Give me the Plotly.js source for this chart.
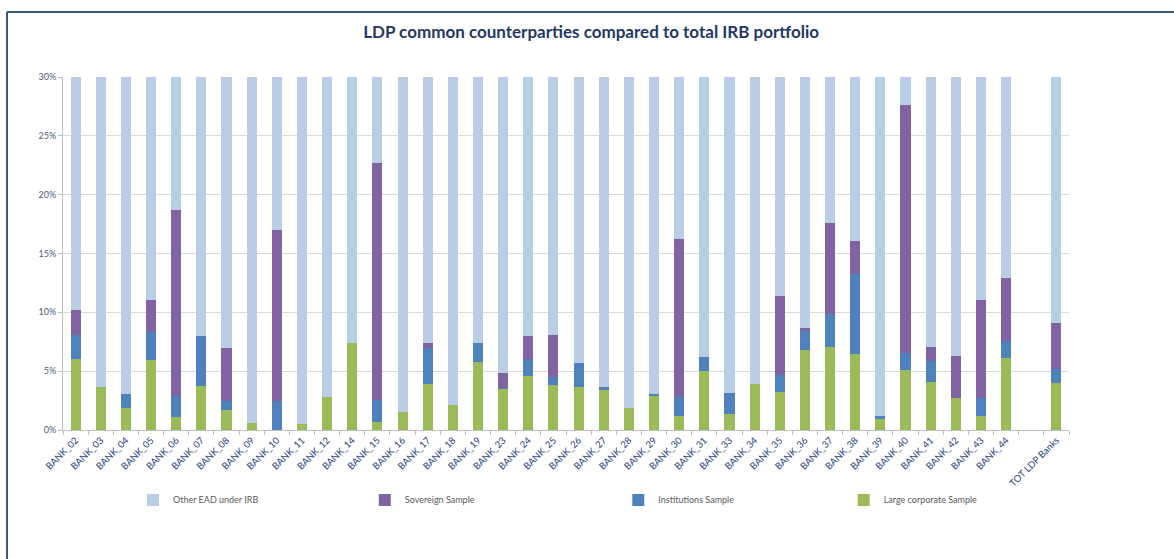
<!DOCTYPE html>
<html>
<head>
<meta charset="utf-8">
<script src="https://cdn.plot.ly/plotly-3.0.1.min.js"></script>
<style>
  html, body { margin: 0; padding: 0; background: #fff; }
  #chart { width: 1174px; height: 559px; }
</style>
</head>
<body>
<div id="chart"></div>
<script>
// Categories (x axis)
const banks = ["BANK_02","BANK_03","BANK_04","BANK_05","BANK_06","BANK_07","BANK_08","BANK_09","BANK_10","BANK_11",
  "BANK_12","BANK_14","BANK_15","BANK_16","BANK_17","BANK_18","BANK_19","BANK_23","BANK_24","BANK_25",
  "BANK_26","BANK_27","BANK_28","BANK_29","BANK_30","BANK_31","BANK_33","BANK_34","BANK_35","BANK_36",
  "BANK_37","BANK_38","BANK_39","BANK_40","BANK_41","BANK_42","BANK_43","BANK_44"," ","TOT LDP Banks"];

// Series values (% of total IRB EAD)
const largeCorporate = [6.00,3.63,1.90,5.92,1.08,3.71,1.67,0.57,0.00,0.51,
  2.80,7.42,0.65,1.56,3.91,2.12,5.78,3.48,4.59,3.80,
  3.65,3.40,1.90,2.89,1.19,5.01,1.36,3.91,3.26,6.77,
  7.08,6.43,0.95,5.10,4.08,2.69,1.22,6.12,null,3.99];
const institutions = [2.07,0.00,1.13,2.38,1.81,4.29,0.79,0.00,2.46,0.00,
  0.00,0.00,1.87,0.00,3.09,0.00,1.64,0.09,1.41,0.73,
  2.02,0.28,0.00,0.14,1.64,1.19,1.76,0.00,1.41,1.61,
  2.78,6.79,0.24,1.41,1.78,0.00,1.53,1.41,null,1.19];
const sovereign = [2.13,0.00,0.00,2.75,15.83,0.00,4.51,0.00,14.54,0.00,
  0.00,0.00,20.18,0.00,0.36,0.00,0.00,1.27,2.01,3.57,
  0.00,0.00,0.00,0.00,13.43,0.00,0.00,0.00,6.74,0.26,
  7.76,2.84,0.00,21.07,1.19,3.63,8.27,5.41,null,3.94];
const otherEAD = [89.80,96.37,96.97,88.95,81.28,92.00,93.03,99.43,83.00,99.49,
  97.20,92.58,77.30,98.44,92.64,97.88,92.58,95.16,91.99,91.90,
  94.33,96.32,98.10,96.97,83.74,93.80,96.88,96.09,88.59,91.36,
  82.38,83.94,98.81,72.42,92.95,93.68,88.98,87.06,null,90.88];

const yTicks = [0,5,10,15,20,25,30];
const yTickText = ["0%","5%","10%","15%","20%","25%","30%"];

const C_OTHER = "#B9CDE5", C_SOV = "#8064A2", C_INST = "#4F81BD", C_LC = "#9BBB59";

const traces = [
  {type:"bar", name:"Large corporate Sample", x:banks, y:largeCorporate, marker:{color:C_LC}, legend:"legend4"},
  {type:"bar", name:"Institutions Sample", x:banks, y:institutions, marker:{color:C_INST}, legend:"legend3"},
  {type:"bar", name:"Sovereign Sample", x:banks, y:sovereign, marker:{color:C_SOV}, legend:"legend2"},
  {type:"bar", name:"Other EAD under IRB", x:banks, y:otherEAD, marker:{color:C_OTHER}, legend:"legend"}
];

const legFont = {family:"Lato, sans-serif", size:9, color:"#595959"};
function leg(x){ return {x:x, y:-0.198, xanchor:"left", yanchor:"middle", orientation:"h", font:legFont, bgcolor:"rgba(0,0,0,0)", itemwidth:30}; }

const layout = {
  width:1174, height:559,
  margin:{l:63, r:105, t:77, b:129},
  paper_bgcolor:"#fff", plot_bgcolor:"#fff",
  barmode:"stack", bargap:0.6,
  title:{text:"LDP common counterparties compared to total IRB portfolio",
    font:{family:"Lato, sans-serif", size:17, color:"#1F3864", weight:"bold"},
    x:0.525, xref:"paper", xanchor:"center", y:1-32/559, yref:"container", yanchor:"middle"},
  xaxis:{type:"category", tickangle:-45, tickfont:{family:"Lato, sans-serif", size:9.5, color:"#243F7A"},
    showline:true, linecolor:"#BFBFBF", linewidth:1, ticks:"outside", tickson:"boundaries", ticklen:4, tickcolor:"#BFBFBF",
    showgrid:false, fixedrange:true},
  yaxis:{range:[0,30], tickvals:yTicks, ticktext:yTickText, tickfont:{family:"Lato, sans-serif", size:9, color:"#4A5A7A"},
    showline:true, linecolor:"#BFBFBF", linewidth:1, ticks:"outside", ticklen:4, tickcolor:"#BFBFBF",
    showgrid:true, gridcolor:"#D9D9D9", gridwidth:1, zeroline:false, fixedrange:true},
  showlegend:true,
  legend:leg(0.0696), legend2:leg(0.300), legend3:leg(0.552), legend4:leg(0.776),
  shapes:[
    {type:"line", xref:"paper", yref:"paper", x0:(7-63)/1006, x1:(1174-63)/1006, y0:(430-12)/353, y1:(430-12)/353, line:{color:"#3A5A7C", width:2}},
    {type:"line", xref:"paper", yref:"paper", x0:(7-63)/1006, x1:(7-63)/1006, y0:(430-12)/353, y1:(430-570)/353, line:{color:"#3A5A7C", width:2}}
  ]
};

Plotly.newPlot("chart", traces, layout, {displayModeBar:false, staticPlot:true});
</script>
</body>
</html>
